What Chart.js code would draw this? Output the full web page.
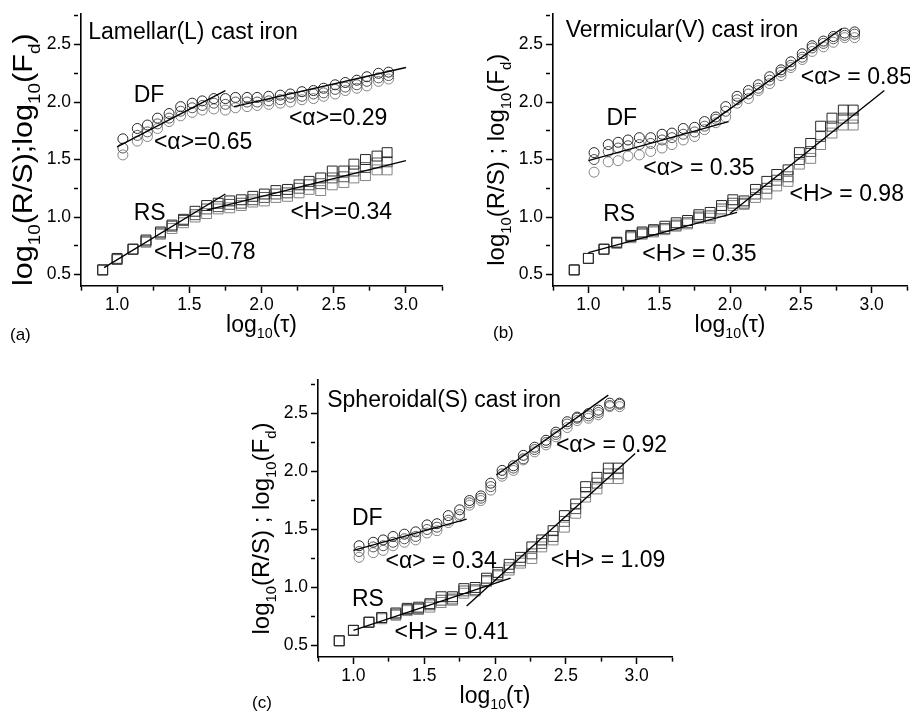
<!DOCTYPE html>
<html>
<head>
<meta charset="utf-8">
<script src="https://cdn.jsdelivr.net/npm/chart.js@4.4.0/dist/chart.umd.min.js"></script>
<style>
  body { margin: 0; background: #fff; width: 910px; height: 719px; overflow: hidden; position: relative; }
  canvas { position: absolute; }
</style>
</head>
<body>
<canvas id="chart-a" width="455" height="360" style="left:0;top:0"></canvas>
<canvas id="chart-b" width="460" height="360" style="left:455px;top:0"></canvas>
<canvas id="chart-c" width="460" height="359" style="left:220px;top:360px"></canvas>
<script>
// log10(tau) for the R/S points and for the DF points
var rsTau = [0.90, 1.00, 1.11, 1.20, 1.30, 1.38, 1.46, 1.54, 1.62, 1.70, 1.78, 1.86, 1.94, 2.02, 2.10, 2.18, 2.26, 2.33, 2.41, 2.49, 2.57, 2.64, 2.72, 2.80, 2.87];
var dfTau = [1.04, 1.14, 1.21, 1.28, 1.36, 1.44, 1.52, 1.59, 1.67, 1.75, 1.82, 1.90, 1.97, 2.05, 2.13, 2.20, 2.28, 2.36, 2.43, 2.51, 2.58, 2.66, 2.73, 2.81, 2.88];

// (a) lamellar
var lamRS1 = [0.54, 0.64, 0.72, 0.80, 0.87, 0.93, 0.98, 1.05, 1.10, 1.12, 1.14, 1.15, 1.18, 1.20, 1.23, 1.24, 1.28, 1.31, 1.34, 1.40, 1.40, 1.46, 1.50, 1.53, 1.56];
var lamRS2 = [0.54, 0.63, 0.72, 0.79, 0.86, 0.92, 0.97, 1.02, 1.07, 1.09, 1.11, 1.12, 1.15, 1.17, 1.20, 1.21, 1.25, 1.28, 1.29, 1.34, 1.35, 1.40, 1.43, 1.47, 1.48];
var lamRS3 = [0.54, 0.63, 0.72, 0.78, 0.85, 0.90, 0.95, 1.00, 1.03, 1.07, 1.08, 1.10, 1.13, 1.14, 1.17, 1.18, 1.21, 1.24, 1.23, 1.28, 1.30, 1.34, 1.36, 1.41, 1.41];
var lamDF1 = [1.68, 1.77, 1.80, 1.86, 1.90, 1.96, 1.99, 2.01, 2.03, 2.03, 2.04, 2.04, 2.04, 2.05, 2.06, 2.07, 2.09, 2.10, 2.12, 2.15, 2.17, 2.19, 2.22, 2.25, 2.26];
var lamDF2 = [1.60, 1.71, 1.74, 1.81, 1.86, 1.92, 1.95, 1.97, 1.99, 1.98, 2.00, 2.00, 2.00, 2.01, 2.02, 2.04, 2.05, 2.07, 2.08, 2.11, 2.13, 2.15, 2.18, 2.21, 2.23];
var lamDF3 = [1.54, 1.66, 1.70, 1.77, 1.83, 1.88, 1.91, 1.93, 1.94, 1.93, 1.95, 1.96, 1.97, 1.98, 1.99, 2.00, 2.02, 2.03, 2.05, 2.07, 2.10, 2.12, 2.14, 2.18, 2.20];
var lamFits = [[1.00, 1.61, 1.75, 2.10], [1.81, 1.96, 3.00, 2.30], [0.91, 0.56, 1.75, 1.20], [1.62, 1.06, 3.00, 1.49]];

// (b) vermicular
var verRS1 = [0.54, 0.64, 0.72, 0.78, 0.84, 0.87, 0.89, 0.92, 0.95, 0.97, 1.02, 1.04, 1.10, 1.15, 1.14, 1.24, 1.31, 1.37, 1.41, 1.56, 1.64, 1.79, 1.86, 1.93, 1.93];
var verRS2 = [0.54, 0.64, 0.72, 0.78, 0.83, 0.86, 0.88, 0.90, 0.93, 0.95, 1.00, 1.01, 1.07, 1.12, 1.12, 1.20, 1.25, 1.32, 1.35, 1.50, 1.57, 1.70, 1.79, 1.86, 1.86];
var verRS3 = [0.54, 0.64, 0.72, 0.77, 0.82, 0.85, 0.87, 0.89, 0.92, 0.94, 0.99, 0.99, 1.05, 1.10, 1.11, 1.17, 1.20, 1.27, 1.31, 1.46, 1.51, 1.63, 1.73, 1.80, 1.80];
var verDF1 = [1.56, 1.63, 1.65, 1.67, 1.69, 1.69, 1.72, 1.73, 1.77, 1.78, 1.83, 1.87, 1.96, 2.05, 2.10, 2.15, 2.22, 2.28, 2.35, 2.42, 2.49, 2.53, 2.57, 2.60, 2.61];
var verDF2 = [1.50, 1.57, 1.60, 1.62, 1.63, 1.64, 1.67, 1.69, 1.72, 1.74, 1.79, 1.85, 1.92, 2.02, 2.07, 2.12, 2.19, 2.26, 2.32, 2.39, 2.47, 2.51, 2.55, 2.58, 2.59];
var verDF3 = [1.39, 1.48, 1.49, 1.53, 1.54, 1.57, 1.60, 1.63, 1.67, 1.70, 1.76, 1.82, 1.87, 1.99, 2.03, 2.10, 2.16, 2.23, 2.30, 2.37, 2.44, 2.48, 2.52, 2.56, 2.56];
var verFits = [[1.00, 1.49, 1.99, 1.83], [1.83, 1.79, 2.79, 2.64], [1.00, 0.69, 2.05, 1.04], [2.00, 1.03, 3.09, 2.10]];

// (c) spheroidal
var sphRS1 = [0.54, 0.63, 0.70, 0.74, 0.78, 0.82, 0.83, 0.86, 0.92, 0.92, 0.99, 1.00, 1.08, 1.13, 1.20, 1.26, 1.35, 1.41, 1.49, 1.62, 1.72, 1.87, 1.95, 2.03, 2.03];
var sphRS2 = [0.54, 0.63, 0.70, 0.74, 0.77, 0.81, 0.82, 0.85, 0.89, 0.90, 0.97, 0.98, 1.06, 1.11, 1.17, 1.23, 1.29, 1.38, 1.44, 1.57, 1.68, 1.82, 1.90, 1.98, 1.98];
var sphRS3 = [0.54, 0.63, 0.70, 0.73, 0.76, 0.80, 0.81, 0.83, 0.87, 0.89, 0.95, 0.97, 1.05, 1.10, 1.15, 1.21, 1.25, 1.35, 1.41, 1.52, 1.64, 1.78, 1.85, 1.94, 1.94];
var sphDF1 = [1.36, 1.39, 1.41, 1.44, 1.46, 1.48, 1.54, 1.55, 1.62, 1.67, 1.75, 1.79, 1.90, 2.01, 2.05, 2.14, 2.21, 2.27, 2.34, 2.43, 2.47, 2.50, 2.53, 2.59, 2.59];
var sphDF2 = [1.31, 1.35, 1.36, 1.39, 1.42, 1.44, 1.50, 1.52, 1.58, 1.63, 1.73, 1.77, 1.87, 1.98, 2.03, 2.11, 2.19, 2.25, 2.32, 2.41, 2.46, 2.48, 2.51, 2.57, 2.58];
var sphDF3 = [1.26, 1.30, 1.32, 1.36, 1.39, 1.41, 1.47, 1.49, 1.56, 1.61, 1.71, 1.75, 1.84, 1.96, 2.01, 2.10, 2.17, 2.23, 2.30, 2.38, 2.44, 2.46, 2.49, 2.56, 2.56];
var sphFits = [[1.00, 1.32, 1.80, 1.59], [2.01, 1.97, 2.80, 2.66], [1.00, 0.63, 2.11, 1.08], [1.80, 0.84, 2.99, 2.155]];

// labelled ticks
var xTickLabels = [1.0, 1.5, 2.0, 2.5, 3.0];
var yTickLabels = [0.5, 1.0, 1.5, 2.0, 2.5];

var FONT = '"Liberation Sans", Arial, sans-serif';
var greys = ['#262626', '#555555', '#858585'];

function isLabelled(v, list) {
  return list.some(function (t) { return Math.abs(t - v) < 1e-6; });
}

function points(xs, ys) {
  return ys.map(function (v, i) { return { x: xs[i], y: v }; });
}

function markerSets(xs, series, style, radius) {
  return series.map(function (ys, k) {
    return {
      data: points(xs, ys),
      pointStyle: style,
      pointRadius: radius,
      pointHoverRadius: radius,
      pointBorderColor: greys[k],
      pointBackgroundColor: 'rgba(0,0,0,0)',
      pointBorderWidth: 1,
      order: 1
    };
  });
}

function fitSets(fits) {
  return fits.map(function (f) {
    return {
      data: [{ x: f[0], y: f[1] }, { x: f[2], y: f[3] }],
      showLine: true,
      borderColor: '#000',
      borderWidth: 1.4,
      pointRadius: 0,
      order: 0
    };
  });
}

// text with subscripts: parts = [[text, isSub], ...]
function drawRich(ctx, parts, x, y, size, stretch, angle, align) {
  ctx.save();
  ctx.translate(x, y);
  ctx.rotate(angle || 0);
  ctx.scale(stretch || 1, 1);
  ctx.fillStyle = '#000';
  ctx.textAlign = 'left';
  ctx.textBaseline = 'alphabetic';
  var w = 0;
  parts.forEach(function (p) {
    ctx.font = (p[1] ? size * 0.62 : size) + 'px ' + FONT;
    w += ctx.measureText(p[0]).width;
  });
  var cx = align === 'center' ? -w / 2 : 0;
  parts.forEach(function (p) {
    ctx.font = (p[1] ? size * 0.62 : size) + 'px ' + FONT;
    ctx.fillText(p[0], cx, p[1] ? size * 0.28 : 0);
    cx += ctx.measureText(p[0]).width;
  });
  ctx.restore();
}

var xTitle = [['log'], ['10', 1], ['(\u03c4)']];

function textLayer(panel) {
  return {
    id: 'textLayer',
    afterDraw: function (chart) {
      var ctx = chart.ctx, a = chart.chartArea, x = chart.scales.x, y = chart.scales.y;
      panel.notes.forEach(function (n) {
        drawRich(ctx, [[n[0]]], x.getPixelForValue(n[1]), y.getPixelForValue(n[2]), 23);
      });
      drawRich(ctx, xTitle, (a.left + a.right) / 2, a.bottom + 46, 23, 1, 0, 'center');
      drawRich(ctx, panel.yTitle, a.left - 49, (a.top + a.bottom) / 2 + 10, panel.yTitleSize, panel.yTitleStretch, -Math.PI / 2, 'center');
      drawRich(ctx, [[panel.label]], panel.labelAt[0], panel.labelAt[1], 17);
    }
  };
}

function tickDash(list) {
  return function (c) {
    return c.tick && isLabelled(c.tick.value, list) ? [] : [4, 40];
  };
}

function makeChart(id, panel) {
  return new Chart(document.getElementById(id), {
    type: 'scatter',
    data: {
      datasets: fitSets(panel.fits)
        .concat(markerSets(dfTau, panel.df, 'circle', 5))
        .concat(markerSets(rsTau, panel.rs, 'rect', 7))
    },
    options: {
      responsive: false,
      animation: false,
      devicePixelRatio: 1,
      layout: { padding: panel.pad },
      plugins: { legend: { display: false }, tooltip: { enabled: false } },
      scales: {
        x: {
          type: 'linear', min: 0.75, max: 3.25,
          afterFit: function (s) { s.height = panel.xAxisH; },
          border: { color: '#000', width: 1.6 },
          grid: { drawOnChartArea: false, tickLength: 7, tickColor: '#000', tickWidth: 1.5, tickBorderDash: tickDash(xTickLabels) },
          ticks: {
            stepSize: 0.25, includeBounds: false, autoSkip: false, maxRotation: 0, padding: 2,
            color: '#000', font: { family: FONT, size: 17.5 },
            callback: function (v) { return isLabelled(v, xTickLabels) ? v.toFixed(1) : ''; }
          }
        },
        y: {
          type: 'linear', min: 0.4, max: panel.yMax,
          afterFit: function (s) { s.width = panel.yAxisW; },
          border: { color: '#000', width: 1.6 },
          grid: { drawOnChartArea: false, tickLength: 7, tickColor: '#000', tickWidth: 1.5, tickBorderDash: tickDash(yTickLabels) },
          ticks: {
            stepSize: 0.25, includeBounds: false, autoSkip: false, padding: 3,
            color: '#000', font: { family: FONT, size: 17.5 },
            callback: function (v) { return isLabelled(v, yTickLabels) ? v.toFixed(1) : ''; }
          }
        }
      }
    },
    plugins: [textLayer(panel)]
  });
}

makeChart('chart-a', {
  df: [lamDF1, lamDF2, lamDF3], rs: [lamRS1, lamRS2, lamRS3], fits: lamFits,
  yMax: 2.77, pad: { left: 0, top: 12, right: 13, bottom: 0 }, yAxisW: 81, xAxisH: 74,
  yTitle: [['log'], ['10', 1], ['(R/S);log'], ['10', 1], ['(F'], ['d', 1], [')']],
  yTitleSize: 27, yTitleStretch: 1.13,
  label: '(a)', labelAt: [10, 340],
  notes: [
    ['Lamellar(L) cast iron', 0.80, 2.55],
    ['DF', 1.115, 2.00],
    ['RS', 1.115, 0.97],
    ['<\u03b1>=0.65', 1.255, 1.59],
    ['<\u03b1>=0.29', 2.19, 1.80],
    ['<H>=0.34', 2.20, 0.98],
    ['<H>=0.78', 1.255, 0.635]
  ]
});

makeChart('chart-b', {
  df: [verDF1, verDF2, verDF3], rs: [verRS1, verRS2, verRS3], fits: verFits,
  yMax: 2.77, pad: { left: 0, top: 13, right: 2, bottom: 0 }, yAxisW: 98, xAxisH: 74,
  yTitle: [['log'], ['10', 1], ['(R/S) ; log'], ['10', 1], ['(F'], ['d', 1], [')']],
  yTitleSize: 24, yTitleStretch: 1,
  label: '(b)', labelAt: [38, 338],
  notes: [
    ['Vermicular(V) cast iron', 0.84, 2.565],
    ['DF', 1.127, 1.80],
    ['RS', 1.104, 0.967],
    ['<\u03b1> = 0.35', 1.388, 1.365],
    ['<\u03b1> = 0.85', 2.50, 2.16],
    ['<H> = 0.98', 2.42, 1.14],
    ['<H> = 0.35', 1.38, 0.62]
  ]
});

makeChart('chart-c', {
  df: [sphDF1, sphDF2, sphDF3], rs: [sphRS1, sphRS2, sphRS3], fits: sphFits,
  yMax: 2.79, pad: { left: 0, top: 20, right: 3, bottom: 0 }, yAxisW: 98, xAxisH: 62,
  yTitle: [['log'], ['10', 1], ['(R/S) ; log'], ['10', 1], ['(F'], ['d', 1], [')']],
  yTitleSize: 24, yTitleStretch: 1,
  label: '(c)', labelAt: [32, 348],
  notes: [
    ['Spheroidal(S) cast iron', 0.815, 2.558],
    ['DF', 0.99, 1.536],
    ['RS', 0.99, 0.837],
    ['<\u03b1> = 0.34', 1.227, 1.17],
    ['<\u03b1> = 0.92', 2.43, 2.17],
    ['<H> = 1.09', 2.394, 1.176],
    ['<H> = 0.41', 1.29, 0.558]
  ]
});
</script>
</body>
</html>
